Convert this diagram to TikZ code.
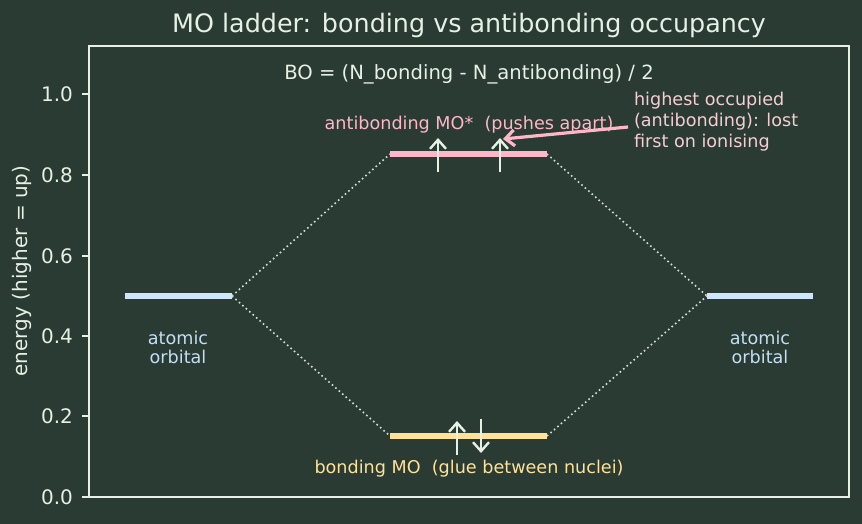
\documentclass[tikz,border=0pt]{standalone}
\usepackage{fontspec}
\setmainfont{DejaVu Sans}
\usetikzlibrary{arrows.meta,positioning}

\definecolor{bgcol}{HTML}{2A3B34}
\definecolor{fgcol}{HTML}{E6F0E4}
\definecolor{abcol}{HTML}{FFB6C8}
\definecolor{notecol}{HTML}{F7CDD5}
\definecolor{bcol}{HTML}{FFE29A}
\definecolor{aocol}{HTML}{CDE6FA}
\definecolor{aotxt}{HTML}{C4DFF2}

\tikzset{
  level/.style={line width=2.6pt},
  corr/.style={fgcol!90!bgcol,line width=0.8pt,dash pattern=on 0.8pt off 1.5pt},
  elec/.style={fgcol,line width=1.2pt,-{Straight Barb[length=4.5pt,width=8pt]}},
  lab/.style={font=\fontsize{8.8}{10.5}\selectfont},
  tick/.style={fgcol,line width=0.6pt}
}

\begin{document}
\begin{tikzpicture}[x=0.5pt,y=-0.5pt,>=Latex]
  \fill[bgcol] (0,0) rectangle (862,524);
  \useasboundingbox (0,0) rectangle (862,524);
  % axes frame and ticks
  \draw[fgcol,line width=0.9pt] (89,46) rectangle (849,497);
  \foreach \v/\lab in {497/0.0,416/0.2,336/0.4,256/0.6,175/0.8,94/1.0}{
    \draw[tick] (89,\v) -- (82,\v);
    \node[fgcol,anchor=east,font=\fontsize{10}{12}\selectfont] at (80,\v) {\lab};
  }
  \node[fgcol,rotate=90,font=\fontsize{10}{12}\selectfont] (ylab) at (22,271) {energy (higher = up)};
  \node[fgcol,font=\fontsize{12.7}{15}\selectfont] (title) at (469,25) {MO ladder: bonding vs antibonding occupancy};
  \node[fgcol,font=\fontsize{9.8}{12}\selectfont] (bo) at (469,74) {BO = (N\_bonding - N\_antibonding) / 2};

  % energy levels
  \coordinate (aoL1) at (125,296); \coordinate (aoL2) at (232,296);
  \coordinate (aoR1) at (707,296); \coordinate (aoR2) at (813,296);
  \coordinate (ab1) at (390,154);  \coordinate (ab2) at (547,154);
  \coordinate (bd1) at (390,436);  \coordinate (bd2) at (547,436);
  \draw[corr] (aoL2) -- (ab1);
  \draw[corr] (aoL2) -- (bd1);
  \draw[corr] (ab2) -- (aoR1);
  \draw[corr] (bd2) -- (aoR1);
  \draw[level,aocol] (aoL1) -- (aoL2);
  \draw[level,aocol] (aoR1) -- (aoR2);
  \draw[level,abcol] (ab1) -- (ab2);
  \draw[level,bcol] (bd1) -- (bd2);

  % electrons
  \draw[elec] (438,172) -- (438,138);
  \draw[elec] (500,172) -- (500,138);
  \draw[elec] (457,455) -- (457,421);
  \draw[elec] (481,419) -- (481,453);

  % labels
  \node[lab,abcol] (ablab) at (469,125) {antibonding MO*\ \ (pushes apart)};
  \node[lab,bcol] (bdlab) at (469,469) {bonding MO\ \ (glue between nuclei)};
  \node[lab,aotxt,align=center] (aoLlab) at (178,347) {atomic\\[-1pt]orbital};
  \node[lab,aotxt,align=center] (aoRlab) at (760,347) {atomic\\[-1pt]orbital};
  \node[lab,notecol,align=left,anchor=north west] (note) at (627,85)
    {highest occupied\\(antibonding): lost\\first on ionising};
  \coordinate (hocc) at (503,139);
  \draw[abcol,line width=1.6pt,-{Straight Barb[length=4.5pt,width=8pt]}] (628,127) -- (hocc);
\end{tikzpicture}
\end{document}
